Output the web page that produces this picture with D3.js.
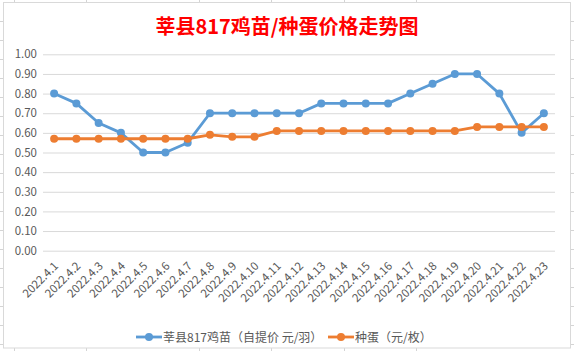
<!DOCTYPE html>
<html>
<head>
<meta charset="utf-8">
<script src="https://cdn.jsdelivr.net/npm/d3@7"></script>
<style>
  body { margin: 0; background: #fff; }
  svg { display: block; }
</style>
</head>
<body>
<script>
// categories and series
const dates = ["2022.4.1", "2022.4.2", "2022.4.3", "2022.4.4", "2022.4.5", "2022.4.6",
    "2022.4.7", "2022.4.8", "2022.4.9", "2022.4.10", "2022.4.11", "2022.4.12",
    "2022.4.13", "2022.4.14", "2022.4.15", "2022.4.16", "2022.4.17", "2022.4.18",
    "2022.4.19", "2022.4.20", "2022.4.21", "2022.4.22", "2022.4.23"];
const chickPrice = [0.80, 0.75, 0.65, 0.60, 0.50, 0.50, 0.55, 0.70, 0.70, 0.70, 0.70, 0.70,
    0.75, 0.75, 0.75, 0.75, 0.80, 0.85, 0.90, 0.90, 0.80, 0.60, 0.70];
const eggPrice = [0.57, 0.57, 0.57, 0.57, 0.57, 0.57, 0.57, 0.59, 0.58, 0.58, 0.61, 0.61,
    0.61, 0.61, 0.61, 0.61, 0.61, 0.61, 0.61, 0.63, 0.63, 0.63, 0.63];
const seriesNames = ["莘县817鸡苗（自提价 元/羽）", "种蛋（元/枚）"];
const yTicks = [0, 0.1, 0.2, 0.3, 0.4, 0.5, 0.6, 0.7, 0.8, 0.9, 1.0];
const titleText = "莘县817鸡苗/种蛋价格走势图";

const width = 574, height = 351;
const colors = ["#5B9BD5", "#ED7D31"];
const font = "'Noto Sans CJK SC', 'Noto Sans', sans-serif";

const svg = d3.select("body").append("svg")
    .attr("width", width)
    .attr("height", height)
    .style("font-family", font);

// spreadsheet cell lines peeking around the chart box
const sheet = svg.append("g").attr("stroke", "#D4D4D4").attr("stroke-width", 1);
[14, 86, 199, 271, 344, 416].forEach(function (x) {
    sheet.append("line").attr("x1", x + 0.5).attr("x2", x + 0.5).attr("y1", 0).attr("y2", 3);
    sheet.append("line").attr("x1", x + 0.5).attr("x2", x + 0.5).attr("y1", 348).attr("y2", height);
});
d3.range(21, 350, 19).forEach(function (y) {
    sheet.append("line").attr("x1", 0).attr("x2", 3).attr("y1", y + 0.5).attr("y2", y + 0.5);
    sheet.append("line").attr("x1", 571).attr("x2", width).attr("y1", y + 0.5).attr("y2", y + 0.5);
});

// chart box
svg.append("rect")
    .attr("x", 3.5).attr("y", 2.5)
    .attr("width", 567).attr("height", 345.5)
    .attr("fill", "#fff")
    .attr("stroke", "#D9D9D9");

//Scales
const x = d3.scaleBand().domain(dates).range([43, 555]).padding(0);
const y = d3.scaleLinear().domain([0, 1]).range([250.7, 54.3]);
const cx = d => x(d) + x.bandwidth() / 2;

//Title
svg.append("text")
    .attr("x", 287)
    .attr("y", 34)
    .attr("text-anchor", "middle")
    .attr("fill", "#FF0000")
    .style("font-size", "20px")
    .style("font-weight", "bold")
    .text(titleText);

//Gridlines + y labels
const yAxis = svg.append("g")
    .attr("transform", "translate(43,0)")
    .call(d3.axisLeft(y).tickValues(yTicks).tickFormat(d3.format(".2f"))
        .tickSize(-512).tickPadding(6));
yAxis.select(".domain").remove();
yAxis.selectAll(".tick line").attr("stroke", "#D9D9D9");
yAxis.selectAll(".tick text")
    .attr("fill", "#595959")
    .style("font-size", "11.5px")
    .style("font-family", font);

//X labels, rotated
const xAxis = svg.append("g")
    .attr("transform", "translate(0,250.7)")
    .call(d3.axisBottom(x).tickSize(0).tickPadding(0));
xAxis.select(".domain").remove();
xAxis.selectAll(".tick text")
    .attr("fill", "#595959")
    .style("font-size", "11.5px")
    .style("font-family", font)
    .attr("text-anchor", "end")
    .attr("dy", "0")
    .attr("transform", "translate(5,16) rotate(-45)");

//Lines
const line = d3.line()
    .x((d, i) => cx(dates[i]))
    .y(d => y(d));

[chickPrice, eggPrice].forEach(function (values, k) {
    const g = svg.append("g");
    g.append("path")
        .datum(values)
        .attr("fill", "none")
        .attr("stroke", colors[k])
        .attr("stroke-width", 2.8)
        .attr("stroke-linejoin", "round")
        .attr("d", line);
    g.selectAll("circle")
        .data(values)
        .enter()
        .append("circle")
        .attr("cx", (d, i) => cx(dates[i]))
        .attr("cy", d => y(d))
        .attr("r", 4)
        .attr("fill", colors[k]);
});

//Legend
const legendX = [136, 328];
seriesNames.forEach(function (name, k) {
    const g = svg.append("g").attr("transform", "translate(" + legendX[k] + ",337)");
    g.append("line")
        .attr("x1", 0).attr("x2", 26)
        .attr("stroke", colors[k])
        .attr("stroke-width", 2.8);
    g.append("circle").attr("cx", 13).attr("r", 4).attr("fill", colors[k]);
    g.append("text")
        .attr("x", 27)
        .attr("y", 4.5)
        .attr("fill", "#595959")
        .style("font-size", "12px")
        .text(name);
});
</script>
</body>
</html>
